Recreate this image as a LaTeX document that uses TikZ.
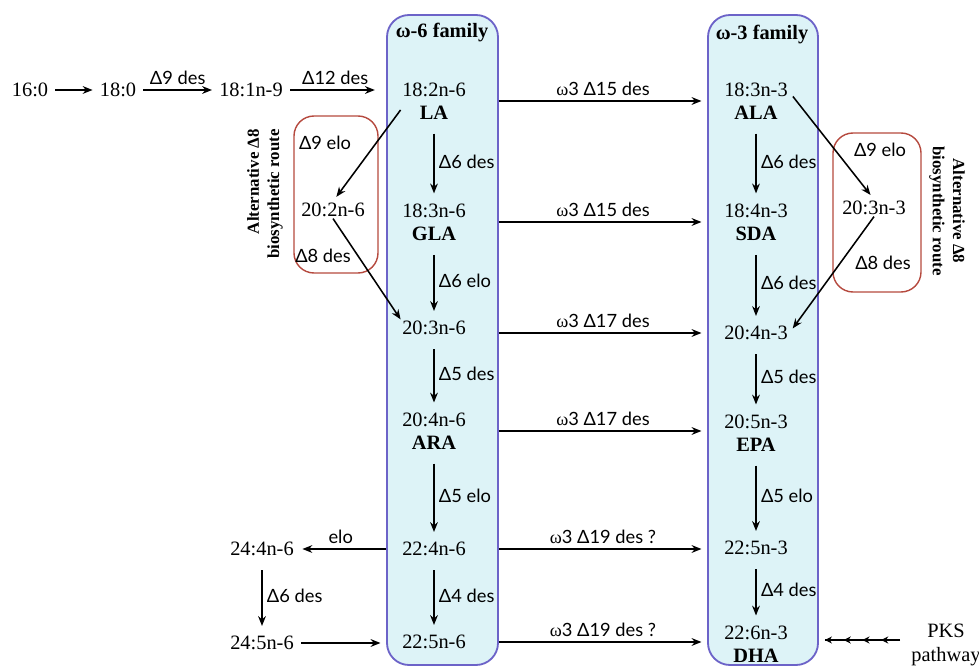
\documentclass[tikz,border=0pt]{standalone}
\usepackage{fontspec}
\setmainfont{Liberation Serif}
\newfontfamily\enzfont{Lato}
\usetikzlibrary{arrows.meta,fit,decorations.markings}
\definecolor{famfill}{HTML}{DDF3F7}
\definecolor{famline}{HTML}{6C63C8}
\definecolor{altline}{HTML}{B5493E}
\tikzset{
  acid/.style={font=\fontsize{14.5}{16.5}\selectfont, align=center, inner sep=1pt},
  enz/.style={font=\enzfont\fontsize{13}{14.5}\selectfont, inner sep=3pt},
  conv/.style={-{Stealth[length=7pt,width=5.5pt]}, line width=1.1pt},
  hconv/.style={conv, shorten <=4pt, shorten >=4pt},
  vconv/.style={conv, shorten <=9pt, shorten >=6pt},
  famBox/.style={draw=famline, fill=famfill, line width=1.3pt, rounded corners=0.55cm, inner sep=0pt},
  famTitle/.style={font=\bfseries\fontsize{14.5}{16}\selectfont},
  altBox/.style={draw=altline, line width=1pt, rounded corners=0.5cm, inner sep=0pt},
  routeLbl/.style={font=\bfseries\fontsize{12}{14.5}\selectfont},
  pks/.style={line width=1.1pt, postaction={decorate},
    decoration={markings,
      mark=at position 0.25 with {\arrow{Stealth[length=5pt,width=5pt]}},
      mark=at position 0.5 with {\arrow{Stealth[length=5pt,width=5pt]}},
      mark=at position 0.75 with {\arrow{Stealth[length=5pt,width=5pt]}},
      mark=at position 1 with {\arrow{Stealth[length=5pt,width=5pt]}}}}
}
\begin{document}
\begin{tikzpicture}[x=0.025cm,y=-0.025cm]
  \useasboundingbox (0,0) rectangle (979,668);
  \node (w6) [famBox, fit={(387,15) (498,665)}] {};
  \node (w3) [famBox, fit={(708,15) (818,665)}] {};
  \node (w6title) at (442,33) [famTitle] {ω-6 family};
  \node (w3title) at (762,35) [famTitle] {ω-3 family};
  \node (altL) [altBox, fit={(294,116) (378,273)}] {};
  \node (altR) [altBox, fit={(833,133) (921,292)}] {};

  \node (n160) at (30,90) [acid] {16:0};
  \node (n180) at (118,90) [acid] {18:0};
  \node (n181) at (251,90) [acid] {18:1n-9};
  \draw[hconv] (n160) -- (n180);
  \draw[hconv] (n180) -- node[enz,above] {Δ9 des} (n181);
  \draw[conv, shorten <=4pt, shorten >=8pt] (n181) -- node[enz,above] {Δ12 des} (n181 -| w6.west);

  \node (la) at (434,101) [acid] {18:2n-6\\\textbf{LA}};
  \node (gla) at (434,222) [acid] {18:3n-6\\\textbf{GLA}};
  \node (n203) at (434,328) [acid] {20:3n-6};
  \node (ara) at (434,431) [acid] {20:4n-6\\\textbf{ARA}};
  \node (n224) at (434,549) [acid] {22:4n-6};
  \node (n225) at (434,642) [acid] {22:5n-6};
  \draw[vconv] (la) -- node[enz,right] {Δ6 des} (gla);
  \draw[vconv] (gla) -- node[enz,right] {Δ6 elo} (n203);
  \draw[vconv] (n203) -- node[enz,right] {Δ5 des} (ara);
  \draw[vconv] (ara) -- node[enz,right] {Δ5 elo} (n224);
  \draw[vconv] (n224) -- node[enz,right] {Δ4 des} (n225);

  \node (ala) at (756,101) [acid] {18:3n-3\\\textbf{ALA}};
  \node (sda) at (756,222) [acid] {18:4n-3\\\textbf{SDA}};
  \node (n204) at (756,333) [acid] {20:4n-3};
  \node (epa) at (756,433) [acid] {20:5n-3\\\textbf{EPA}};
  \node (n225c) at (756,548) [acid] {22:5n-3};
  \node (dha) at (756,644) [acid] {22:6n-3\\\textbf{DHA}};
  \draw[vconv] (ala) -- node[enz,right] {Δ6 des} (sda);
  \draw[vconv] (sda) -- node[enz,right] {Δ6 des} (n204);
  \draw[vconv] (n204) -- node[enz,right] {Δ5 des} (epa);
  \draw[vconv] (epa) -- node[enz,right] {Δ5 elo} (n225c);
  \draw[vconv] (n225c) -- node[enz,right] {Δ4 des} (dha);

  \draw[conv, shorten >=4pt] (w6.east |- la) -- node[enz,above] {{\rmfamily ω}3 Δ15 des} (w3.west |- la);
  \draw[conv, shorten >=4pt] (w6.east |- gla) -- node[enz,above] {{\rmfamily ω}3 Δ15 des} (w3.west |- gla);
  \draw[conv, shorten >=4pt] (w6.east |- n204) -- node[enz,above] {{\rmfamily ω}3 Δ17 des} (w3.west |- n204);
  \draw[conv, shorten >=4pt] (w6.east |- ara) -- node[enz,above] {{\rmfamily ω}3 Δ17 des} (w3.west |- ara);
  \draw[conv, shorten >=4pt] (w6.east |- n224) -- node[enz,above] {{\rmfamily ω}3 Δ19 des ?} (w3.west |- n224);
  \draw[conv, shorten >=4pt] (w6.east |- n225) -- node[enz,above] {{\rmfamily ω}3 Δ19 des ?} (w3.west |- n225);

  \node (n202) at (333,210) [acid] {20:2n-6};
  \node (d9eloL) at (325,143) [enz] {Δ9 elo};
  \node (d8desL) at (323,256) [enz] {Δ8 des};
  \draw[conv, shorten >=4pt] (la.195) -- (n202.north);
  \draw[conv] (n202.south) -- (n203.north west);
  \node (routeL) at (265,194) [routeLbl, rotate=90, align=right] {Alternative Δ8\\biosynthetic route};

  \node (n203c) at (874,208) [acid] {20:3n-3};
  \node (d9eloR) at (880,150) [enz] {Δ9 elo};
  \node (d8desR) at (883,263) [enz] {Δ8 des};
  \draw[conv, shorten <=4pt, shorten >=4pt] (ala.15) -- (n203c.north);
  \draw[conv, shorten >=4pt] (n203c.south) -- (n204.east);
  \node (routeR) at (947,211) [routeLbl, rotate=-90, align=center] {Alternative Δ8\\biosynthetic route};

  \node (n244) at (262,549) [acid] {24:4n-6};
  \node (n245) at (262,643) [acid] {24:5n-6};
  \draw[conv, shorten >=5pt] (w6.west |- n224) -- node[enz,above] {elo} (n244);
  \draw[vconv] (n244) -- node[enz,right] {Δ6 des} (n245);
  \draw[hconv] (n245) -- (w6.west |- n245);

  \node (pksway) at (946,645) [acid] {PKS\\pathway};
  \coordinate (pkstail) at (900,640);
  \draw[pks] (pkstail) -- ([xshift=0.15cm]w3.east |- pkstail);
\end{tikzpicture}
\end{document}
